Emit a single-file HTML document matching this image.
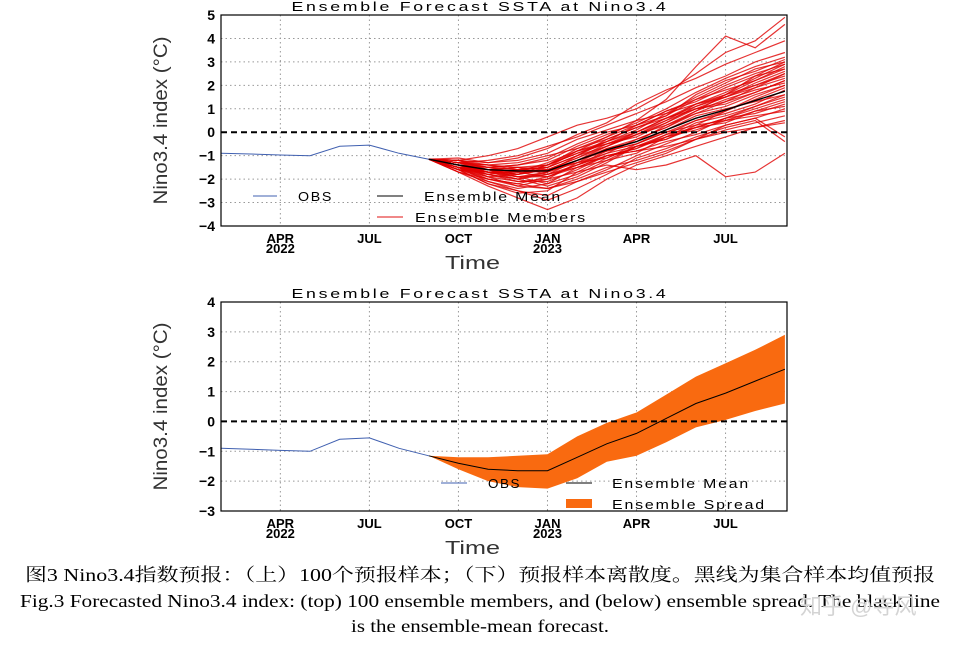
<!DOCTYPE html>
<html><head><meta charset="utf-8"><style>
html,body{margin:0;padding:0;background:#fff;}
svg{display:block;}
.sans{font-family:"Liberation Sans","Noto Sans CJK SC",sans-serif;}
.serif{font-family:"Liberation Serif","Noto Serif CJK SC",serif;}
</style></head><body>
<svg id="svg" width="960" height="650" viewBox="0 0 960 650" xmlns="http://www.w3.org/2000/svg">
<g id="top" class="sans"></g>
<g id="bot" class="sans"></g>
<g>
<text class="serif" x="480" y="581" text-anchor="middle" font-size="18" textLength="910" lengthAdjust="spacingAndGlyphs">图3 Nino3.4指数预报：（上）100个预报样本；（下）预报样本离散度。黑线为集合样本均值预报</text>
<text class="serif" x="480" y="607" text-anchor="middle" font-size="18" textLength="920" lengthAdjust="spacingAndGlyphs">Fig.3 Forecasted Nino3.4 index: (top) 100 ensemble members, and (below) ensemble spread. The black line</text>
<text class="serif" x="480" y="632" text-anchor="middle" font-size="18" textLength="258" lengthAdjust="spacingAndGlyphs">is the ensemble-mean forecast.</text>
<text class="sans" x="800" y="614" font-size="22" fill="#d4d4d4">知乎 @寺风</text>
</g>
</svg>
<script>
const obsMonths=[0,1,2,3,4,5,6,7];
const obsValues=[-0.9,-0.93,-0.97,-1.0,-0.6,-0.55,-0.9,-1.15];
const fcMonths=[7,8,9,10,11,12,13,14,15,16,17,18,19];
const meanValues=[-1.15,-1.4,-1.6,-1.65,-1.65,-1.2,-0.75,-0.4,0.1,0.6,0.95,1.35,1.75];
const spreadUpper=[-1.15,-1.2,-1.2,-1.15,-1.1,-0.5,-0.05,0.3,0.9,1.5,1.95,2.4,2.9];
const spreadLower=[-1.15,-1.6,-2.0,-2.2,-2.25,-1.9,-1.35,-1.15,-0.7,-0.2,0.05,0.35,0.6];
const members=[
[-1.15,-1.3,-1.5,-1.4,-1.2,-0.6,-0.1,0.4,1.0,1.7,2.3,2.8,3.2],
[-1.15,-1.6,-2.0,-2.3,-2.4,-2.0,-1.5,-1.2,-0.8,-0.3,0.1,0.4,0.7],
[-1.15,-1.2,-1.0,-0.7,-0.2,0.3,0.6,1.0,1.7,2.5,3.4,3.9,4.9],
[-1.15,-1.7,-2.3,-2.8,-3.3,-2.8,-2.0,-1.4,-1.0,-0.6,-0.2,0.2,0.5],
[-1.15,-1.5,-1.7,-1.8,-1.6,-1.1,-0.5,0.0,0.6,1.1,1.6,2.0,2.4],
[-1.15,-1.4,-1.9,-2.1,-2.0,-1.7,-1.4,-1.6,-1.4,-1.0,-1.9,-1.7,-0.9],
[-1.15,-1.3,-1.4,-1.3,-1.0,-0.7,-0.2,0.5,1.4,2.8,4.1,3.6,4.6],
[-1.15,-1.5,-1.8,-2.1,-2.1,-1.6,-1.0,-0.7,-0.1,0.5,0.9,1.5,2.0],
[-1.15,-1.6,-1.7,-1.6,-1.5,-1.0,-0.6,-0.1,0.4,1.0,1.2,1.7,2.2],
[-1.15,-1.2,-1.4,-1.5,-1.8,-1.5,-1.2,-0.6,-0.3,0.2,0.4,0.9,1.3],
[-1.15,-1.5,-2.1,-2.5,-2.7,-2.1,-1.6,-1.0,-0.5,0.0,0.6,0.8,1.2],
[-1.15,-1.3,-1.5,-1.7,-1.3,-0.8,-0.4,0.1,0.8,1.5,2.1,2.7,3.0],
[-1.15,-1.4,-1.6,-1.9,-2.2,-1.8,-1.2,-0.9,-0.2,0.4,0.7,1.1,1.5],
[-1.15,-1.6,-1.9,-1.8,-1.4,-0.9,-0.4,0.3,0.9,1.3,1.9,2.4,2.7],
[-1.15,-1.1,-1.3,-1.2,-0.9,-0.3,0.1,0.5,0.8,1.2,1.5,2.0,2.5],
[-1.15,-1.7,-2.0,-2.2,-1.9,-1.4,-0.8,-0.5,0.0,0.3,0.5,0.7,0.9],
[-1.15,-1.4,-1.8,-2.0,-1.7,-1.3,-0.9,-0.3,0.2,0.9,1.4,1.8,2.1],
[-1.15,-1.5,-1.6,-1.5,-1.4,-0.7,-0.3,0.2,0.6,1.0,1.3,1.9,2.3],
[-1.15,-1.3,-1.6,-1.9,-1.9,-1.4,-1.0,-0.8,-0.4,-0.1,0.3,0.6,-0.2],
[-1.15,-1.6,-2.2,-2.6,-2.5,-1.7,-1.1,-0.5,0.1,0.7,1.0,1.3,1.6],
[-1.15,-1.2,-1.6,-1.8,-1.5,-1.0,-0.3,0.2,0.7,1.4,1.8,2.2,2.7],
[-1.15,-1.5,-1.7,-1.7,-1.9,-1.5,-1.0,-0.7,-0.2,0.2,0.6,1.0,1.4],
[-1.15,-1.4,-1.5,-1.6,-1.4,-0.9,-0.5,-0.2,0.4,1.1,1.5,2.1,2.6],
[-1.15,-1.6,-1.8,-2.0,-2.3,-1.9,-1.3,-0.6,-0.2,0.1,0.5,0.9,1.1],
[-1.15,-1.3,-1.2,-1.0,-0.6,-0.2,0.3,0.8,1.3,1.9,2.4,3.0,3.4],
[-1.15,-1.5,-1.9,-2.3,-2.0,-1.3,-0.7,-0.4,0.3,0.8,1.1,1.6,2.0],
[-1.15,-1.4,-1.7,-1.7,-1.6,-1.2,-0.8,-0.5,0.0,0.5,0.8,1.2,1.8],
[-1.15,-1.2,-1.5,-1.4,-1.1,-0.5,0.0,0.3,0.9,1.4,2.0,2.5,2.9],
[-1.15,-1.7,-2.1,-2.4,-2.2,-1.5,-1.0,-0.8,-0.6,-0.3,0.0,0.2,0.4],
[-1.15,-1.4,-1.6,-1.8,-1.6,-1.1,-0.6,-0.1,0.5,1.2,1.7,2.3,2.9],
[-1.15,-1.5,-1.8,-1.6,-1.7,-1.2,-0.7,-0.3,0.2,0.8,1.3,1.7,2.2],
[-1.15,-1.3,-1.7,-2.0,-1.8,-1.4,-0.9,-0.6,-0.3,0.3,0.9,1.4,1.9],
[-1.15,-1.6,-1.7,-1.9,-1.7,-1.0,-0.4,0.0,0.6,1.2,1.6,2.4,3.0],
[-1.15,-1.4,-1.6,-1.5,-1.6,-1.3,-1.1,-0.6,-0.1,0.2,0.6,1.1,1.6],
[-1.15,-1.5,-2.0,-2.2,-2.4,-2.1,-1.7,-1.3,-0.9,-0.3,0.3,0.6,1.0],
[-1.15,-1.3,-1.4,-1.6,-1.5,-0.8,-0.2,0.3,0.7,1.6,2.2,2.6,3.1],
[-1.15,-1.2,-1.3,-1.1,-0.7,-0.1,0.4,1.2,1.8,2.3,2.9,3.4,3.9],
[-1.15,-1.6,-2.2,-2.5,-2.9,-2.4,-1.8,-1.1,-0.7,-0.2,0.2,0.5,-0.4],
[-1.15,-1.4,-1.7,-1.9,-1.8,-1.2,-0.6,0.0,0.5,1.0,1.5,1.9,2.5],
[-1.15,-1.5,-1.6,-1.8,-1.4,-0.8,-0.5,-0.1,0.3,0.9,1.6,2.2,2.8]
];
const xTickMonths=[2,5,8,11,14,17];
const xTickLabels=["APR","JUL","OCT","JAN","APR","JUL"];
const xTickYears=["2022","","","2023","",""];
const topYTicks=[5,4,3,2,1,0,-1,-2,-3,-4];
const botYTicks=[4,3,2,1,0,-1,-2,-3];

const NS="http://www.w3.org/2000/svg";
function mk(parent,tag,attrs,txt){const e=document.createElementNS(NS,tag);for(const k in attrs)e.setAttribute(k,attrs[k]);if(txt!==undefined)e.textContent=txt;parent.appendChild(e);return e;}

function chart(g,top,bottom,ymax,ymin,yticks,title){
  const L=221,R=787;
  const X=m=>L+m*(R-L)/19.07;
  const Y=v=>top+(ymax-v)*(bottom-top)/(ymax-ymin);
  let t=mk(g,"text",{x:480,y:top-4,"text-anchor":"middle","font-size":13,textLength:377,lengthAdjust:"spacingAndGlyphs","letter-spacing":"2"},title);
  
  
  yticks.forEach(v=>{
    if(v!==ymax&&v!==ymin&&v!==0){const l=mk(g,"line",{x1:L,x2:R,y1:Y(v),y2:Y(v),stroke:"#999","stroke-width":1,"stroke-dasharray":"1.5,3"});
    
    }
    const lb=mk(g,"text",{x:L-6,y:Y(v)+5,"text-anchor":"end","font-size":14,"font-weight":"bold"},(v<0?"\u2212":"")+Math.abs(v));
    
    
  });
  xTickMonths.forEach((m,i)=>{
    const l=mk(g,"line",{x1:X(m),x2:X(m),y1:top,y2:bottom,stroke:"#999","stroke-width":1,"stroke-dasharray":"1.5,3"});
    
    
    const a=mk(g,"text",{x:X(m),y:bottom+17,"text-anchor":"middle","font-size":13,"font-weight":"bold"},xTickLabels[i]);
    
    
    if(xTickYears[i]){const b=mk(g,"text",{x:X(m),y:bottom+27,"text-anchor":"middle","font-size":13,"font-weight":"bold"},xTickYears[i]);
    
    }
  });
  const xt=mk(g,"text",{x:445,y:bottom+43,"font-size":18,fill:"#333",textLength:55,lengthAdjust:"spacingAndGlyphs"},"Time");
  
  
  const yt=mk(g,"text",{x:0,y:0,"text-anchor":"middle","font-size":19,fill:"#333",textLength:168,lengthAdjust:"spacingAndGlyphs",transform:`translate(167,${(top+bottom)/2}) rotate(-90)`},"Nino3.4 index (°C)");
  
  
  return {X,Y,L,R};
}
function pts(ms,vs,X,Y){return ms.map((m,i)=>X(m).toFixed(1)+","+Y(vs[i]).toFixed(1)).join(" ");}
function lt(g,x,y,s,len){return mk(g,"text",{x:x,y:y,"font-size":13,"letter-spacing":"1.5",textLength:len,lengthAdjust:"spacingAndGlyphs"},s);}

// TOP
(function(){
  const g=document.getElementById("top");
  const top=15,bottom=226;
  const {X,Y,L,R}=chart(g,top,bottom,5,-4,topYTicks,"Ensemble Forecast SSTA at Nino3.4");
  members.forEach(mv=>{
    const p=mk(g,"polyline",{points:pts(fcMonths,mv,X,Y),fill:"none",stroke:"#e00000","stroke-width":1.2,"stroke-opacity":0.8});
    
    
  });
  const z=mk(g,"line",{x1:L,x2:R,y1:Y(0),y2:Y(0),stroke:"#000","stroke-width":2,"stroke-dasharray":"6,4"});
  
  
  const o=mk(g,"polyline",{points:pts(obsMonths,obsValues,X,Y),fill:"none",stroke:"#4060b0","stroke-width":1});
  
  
  const m=mk(g,"polyline",{points:pts(fcMonths,meanValues,X,Y),fill:"none",stroke:"#000","stroke-width":1.4});
  
  
  const f=mk(g,"rect",{x:L,y:top,width:R-L,height:bottom-top,fill:"none",stroke:"#000","stroke-width":1.2});
  
  
  const lg=mk(g,"g",{});
  
  
  mk(lg,"line",{x1:253,x2:277,y1:196,y2:196,stroke:"#4060b0","stroke-width":1});
  lt(lg,298,201,"OBS",35);
  mk(lg,"line",{x1:377,x2:403,y1:196,y2:196,stroke:"#000","stroke-width":1});
  lt(lg,424,201,"Ensemble Mean",138);
  mk(lg,"line",{x1:377,x2:403,y1:217,y2:217,stroke:"#e01010","stroke-width":1});
  lt(lg,415,222,"Ensemble Members",172);
})();

// BOTTOM
(function(){
  const g=document.getElementById("bot");
  const top=302,bottom=511;
  const {X,Y,L,R}=chart(g,top,bottom,4,-3,botYTicks,"Ensemble Forecast SSTA at Nino3.4");
  const poly=fcMonths.map((m,i)=>X(m).toFixed(1)+","+Y(spreadUpper[i]).toFixed(1)).concat(fcMonths.slice().reverse().map((m,j)=>{const i=fcMonths.length-1-j;return X(m).toFixed(1)+","+Y(spreadLower[i]).toFixed(1);})).join(" ");
  const s=mk(g,"polygon",{points:poly,fill:"#f96a10"});
  
  
  const z=mk(g,"line",{x1:L,x2:R,y1:Y(0),y2:Y(0),stroke:"#000","stroke-width":2,"stroke-dasharray":"6,4"});
  
  
  const o=mk(g,"polyline",{points:pts(obsMonths,obsValues,X,Y),fill:"none",stroke:"#4060b0","stroke-width":1});
  
  
  const m=mk(g,"polyline",{points:pts(fcMonths,meanValues,X,Y),fill:"none",stroke:"#000","stroke-width":1});
  
  
  const f=mk(g,"rect",{x:L,y:top,width:R-L,height:bottom-top,fill:"none",stroke:"#000","stroke-width":1.2});
  
  
  const lg=mk(g,"g",{});
  
  
  mk(lg,"line",{x1:441,x2:467,y1:483,y2:483,stroke:"#4060b0","stroke-width":1});
  lt(lg,488,488,"OBS",33);
  mk(lg,"line",{x1:566,x2:592,y1:483,y2:483,stroke:"#000","stroke-width":1});
  lt(lg,612,488,"Ensemble Mean",138);
  mk(lg,"rect",{x:566,y:499,width:26,height:9,fill:"#f96a10"});
  lt(lg,612,509,"Ensemble Spread",154);
})();
</script>
</body></html>
